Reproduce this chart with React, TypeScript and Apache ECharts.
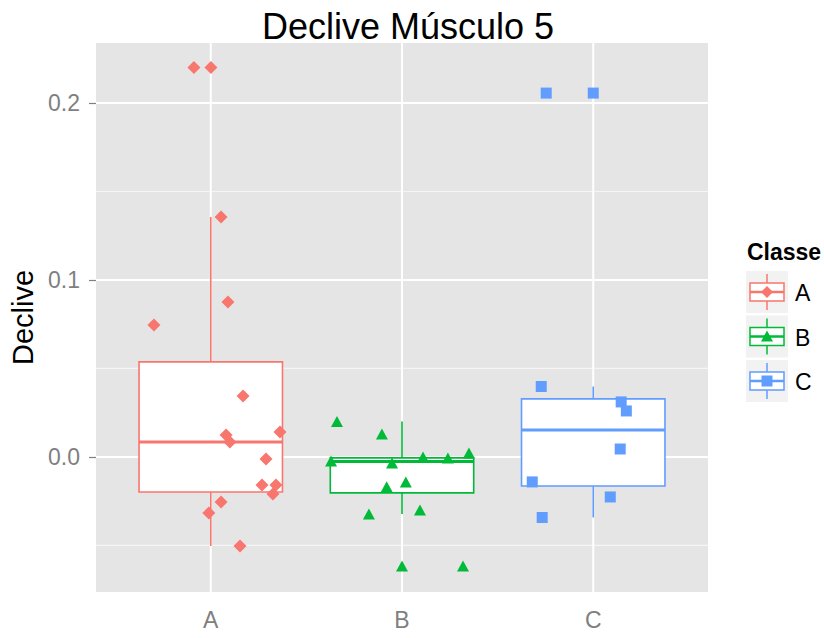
import React, { useEffect, useRef } from "react";
import * as echarts from "echarts";

// Classes on the x axis
const classes = ["A", "B", "C"];

// Jittered observations per class: [x position, declive]
const pointsA = [
  [0.912, 0.22], [1.001, 0.22], [1.054, 0.1356], [1.09, 0.0876],
  [0.703, 0.0746], [1.169, 0.0345], [1.362, 0.0141], [1.08, 0.0124],
  [1.1, 0.0085], [1.289, -0.0011], [1.268, -0.0158], [1.341, -0.0158],
  [1.325, -0.0209], [1.054, -0.0254], [0.99, -0.0316], [1.153, -0.0503],
];
const pointsB = [
  [1.66, 0.02], [1.895, 0.013], [1.629, -0.0023], [1.948, -0.0034],
  [2.11, 0.0], [2.24, -0.0006], [2.35, 0.0023], [1.92, -0.0169],
  [2.02, -0.0141], [1.827, -0.0322], [2.094, -0.0299], [2.0, -0.0616],
  [2.319, -0.0616],
];
const pointsC = [
  [2.728, 0.0398], [3.146, 0.0311], [3.173, 0.026], [3.141, 0.0045],
  [2.681, -0.0141], [3.089, -0.0226], [2.733, -0.0342], [2.754, 0.2056],
  [3.0, 0.2056],
];

// Box statistics per class: [lower whisker, Q1, median, Q3, upper whisker]
const boxA = [-0.0503, -0.0198, 0.0085, 0.0537, 0.1356];
const boxB = [-0.0322, -0.0203, -0.0025, -0.0005, 0.02];
const boxC = [-0.0342, -0.0164, 0.0153, 0.0328, 0.0398];

// Axis breaks
const yBreaks = [0, 0.1, 0.2];
const yMinorBreaks = [-0.05, 0.05, 0.15];
const xBreaks = [1, 2, 3];

const X_MIN = 0.4;
const X_MAX = 3.6;
const Y_MIN = -0.0763;
const Y_MAX = 0.2339;
const BOX_WIDTH = 0.75;

const COLORS = ["#F8766D", "#00BA38", "#619CFF"];
const SYMBOLS = ["diamond", "triangle", "rect"];
const SYMBOL_SIZES: any[] = [[13, 13], [12, 11], [11, 11]];
const FONT = "'Liberation Sans', Arial, sans-serif";

function legendGraphic() {
  const children: any[] = [
    {
      type: "text",
      x: 747,
      y: 252,
      style: {
        text: "Classe",
        fontFamily: FONT,
        fontSize: 23,
        fontWeight: "bold",
        fill: "#000",
        textVerticalAlign: "middle",
      },
    },
  ];
  classes.forEach((name, i) => {
    const cy = 292 + 44.5 * i;
    const cx = 767;
    const color = COLORS[i];
    children.push(
      { type: "rect", shape: { x: 746, y: cy - 21, width: 42, height: 42 }, style: { fill: "#F2F2F2" } },
      { type: "line", shape: { x1: cx, y1: cy - 18, x2: cx, y2: cy + 18 }, style: { stroke: color, lineWidth: 1.5 } },
      { type: "rect", shape: { x: 750, y: cy - 9, width: 34, height: 18 }, style: { fill: "#fff", stroke: color, lineWidth: 1.5 } },
      { type: "line", shape: { x1: 750, y1: cy, x2: 784, y2: cy }, style: { stroke: color, lineWidth: 2.5 } }
    );
    if (i === 0) {
      children.push({
        type: "polygon",
        shape: { points: [[cx, cy - 6], [cx + 6, cy], [cx, cy + 6], [cx - 6, cy]] },
        style: { fill: color },
      });
    } else if (i === 1) {
      children.push({
        type: "polygon",
        shape: { points: [[cx, cy - 6], [cx + 6, cy + 5], [cx - 6, cy + 5]] },
        style: { fill: color },
      });
    } else {
      children.push({ type: "rect", shape: { x: cx - 5.5, y: cy - 5.5, width: 11, height: 11 }, style: { fill: color } });
    }
    children.push({
      type: "text",
      x: 795,
      y: cy + 1,
      style: {
        text: name,
        fontFamily: FONT,
        fontSize: 23,
        fill: "#000",
        textVerticalAlign: "middle",
      },
    });
  });
  return { type: "group", children };
}

export default function App() {
  const ref = useRef<HTMLDivElement>(null);

  useEffect(() => {
    if (!ref.current) return;
    const chart = echarts.init(ref.current, null, { renderer: "svg" });

    const boxes = [boxA, boxB, boxC].map((b, i) => [i + 1, ...b]);
    const pointSets = [pointsA, pointsB, pointsC];

    const hLines = [
      ...yBreaks.map((v) => [X_MIN, v, 1]),
      ...yMinorBreaks.map((v) => [X_MIN, v, 0]),
    ];
    const vLines = xBreaks.map((v) => [v, Y_MIN]);

    const axisText = { color: "#7F7F7F", fontSize: 23, fontFamily: FONT };

    chart.setOption({
      animation: false,
      backgroundColor: "#ffffff",
      graphic: [
        {
          type: "text",
          x: 408,
          y: 26,
          style: {
            text: "Declive Músculo 5",
            fontFamily: FONT,
            fontSize: 36,
            fill: "#000",
            textAlign: "center",
            textVerticalAlign: "middle",
          },
        },
        legendGraphic(),
      ],
      grid: {
        left: 96,
        top: 43,
        width: 612,
        height: 549,
        show: true,
        backgroundColor: "#E5E5E5",
        borderWidth: 0,
      },
      xAxis: {
        type: "value",
        min: X_MIN,
        max: X_MAX,
        axisLine: { show: false },
        splitLine: { show: false },
        axisTick: { show: true, customValues: xBreaks, length: 7, lineStyle: { color: "#7F7F7F", width: 1.2 } },
        axisLabel: {
          customValues: xBreaks,
          formatter: (v: number) => classes[Math.round(v) - 1] ?? "",
          margin: 16,
          ...axisText,
        },
      },
      yAxis: {
        type: "value",
        min: Y_MIN,
        max: Y_MAX,
        name: "Declive",
        nameLocation: "middle",
        nameGap: 56,
        nameRotate: 90,
        nameTextStyle: { fontSize: 29, color: "#000", fontFamily: FONT },
        axisLine: { show: false },
        splitLine: { show: false },
        axisTick: { show: true, customValues: yBreaks, length: 7, lineStyle: { color: "#7F7F7F", width: 1.2 } },
        axisLabel: {
          customValues: yBreaks,
          formatter: (v: number) => v.toFixed(1),
          margin: 16,
          ...axisText,
        },
      },
      series: [
        {
          // horizontal panel grid lines (major and minor)
          type: "custom",
          z: 1,
          silent: true,
          data: hLines,
          renderItem: (params: any, api: any) => {
            const cs = params.coordSys;
            const y = api.coord([api.value(0), api.value(1)])[1];
            const major = api.value(2) === 1;
            return {
              type: "line",
              shape: { x1: cs.x, y1: y, x2: cs.x + cs.width, y2: y },
              style: { stroke: major ? "#FFFFFF" : "#F5F5F5", lineWidth: major ? 2 : 1.2 },
            };
          },
        },
        {
          // vertical grid lines at each class
          type: "custom",
          z: 1,
          silent: true,
          data: vLines,
          renderItem: (params: any, api: any) => {
            const cs = params.coordSys;
            const x = api.coord([api.value(0), api.value(1)])[0];
            return {
              type: "line",
              shape: { x1: x, y1: cs.y, x2: x, y2: cs.y + cs.height },
              style: { stroke: "#FFFFFF", lineWidth: 2 },
            };
          },
        },
        {
          // box and whiskers per class
          type: "custom",
          z: 2,
          silent: true,
          encode: { x: 0, y: [1, 2, 3, 4, 5] },
          data: boxes,
          renderItem: (params: any, api: any) => {
            const x = api.value(0);
            const yOf = (d: number) => api.coord([x, api.value(d)])[1];
            const cx = api.coord([x, api.value(3)])[0];
            const half = api.size([BOX_WIDTH, 0])[0] / 2;
            const yLo = yOf(1), yQ1 = yOf(2), yMed = yOf(3), yQ3 = yOf(4), yHi = yOf(5);
            const color = COLORS[params.dataIndex];
            return {
              type: "group",
              children: [
                { type: "line", shape: { x1: cx, y1: yLo, x2: cx, y2: yQ1 }, style: { stroke: color, lineWidth: 1.6 } },
                { type: "line", shape: { x1: cx, y1: yQ3, x2: cx, y2: yHi }, style: { stroke: color, lineWidth: 1.6 } },
                {
                  type: "rect",
                  shape: { x: cx - half, y: yQ3, width: half * 2, height: yQ1 - yQ3 },
                  style: { fill: "#FFFFFF", stroke: color, lineWidth: 1.6 },
                },
                { type: "line", shape: { x1: cx - half, y1: yMed, x2: cx + half, y2: yMed }, style: { stroke: color, lineWidth: 3 } },
              ],
            };
          },
        },
        ...pointSets.map((pts, i) => ({
          type: "scatter",
          name: classes[i],
          z: 3,
          data: pts,
          symbol: SYMBOLS[i],
          symbolSize: SYMBOL_SIZES[i],
          itemStyle: { color: COLORS[i], opacity: 1 },
        })),
      ],
    });

    return () => chart.dispose();
  }, []);

  return (
    <div
      ref={ref}
      style={{ position: "absolute", left: 0, top: 0, width: 824, height: 638 }}
    />
  );
}
